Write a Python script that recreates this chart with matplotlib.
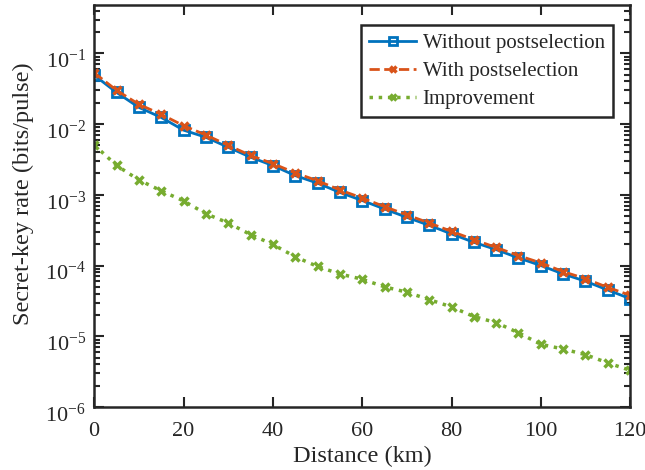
import matplotlib
matplotlib.use("Agg")
import matplotlib.pyplot as plt
import matplotlib.transforms as mtransforms
import numpy as np
from matplotlib.ticker import LogLocator, NullFormatter

plt.rcParams['font.family'] = ['Liberation Serif', 'DejaVu Serif']
plt.rcParams['mathtext.fontset'] = 'stix'

distance = [0, 5, 10, 15, 20, 25, 30, 35, 40, 45, 50, 55, 60, 65, 70, 75, 80, 85, 90, 95, 100, 105, 110, 115, 120]
without_ps = [0.049, 0.028, 0.0172, 0.0124, 0.0082, 0.0065, 0.0047, 0.0034, 0.00259, 0.00187, 0.00146,
              0.00108, 0.00083, 6.3e-4, 4.8e-4, 3.7e-4, 2.8e-4, 2.13e-4, 1.68e-4, 1.28e-4, 1.0e-4,
              7.6e-5, 6.0e-5, 4.5e-5, 3.4e-5]
with_ps = [0.053, 0.030, 0.019, 0.0137, 0.0095, 0.0070, 0.0050, 0.0036, 0.00276, 0.00204, 0.00158,
           0.00117, 0.00090, 6.8e-4, 5.2e-4, 4.0e-4, 3.04e-4, 2.32e-4, 1.8e-4, 1.38e-4, 1.09e-4,
           8.2e-5, 6.5e-5, 4.9e-5, 3.8e-5]
improvement = [5.06e-3, 2.6e-3, 1.62e-3, 1.14e-3, 8.2e-4, 5.4e-4, 4.0e-4, 2.74e-4, 1.99e-4, 1.33e-4, 9.7e-5,
               7.6e-5, 6.4e-5, 5.0e-5, 4.2e-5, 3.3e-5, 2.6e-5, 1.9e-5, 1.56e-5, 1.12e-5, 7.7e-6,
               6.6e-6, 5.5e-6, 4.2e-6, 3.3e-6]

blue = '#0072BD'
orange = '#D95319'
green = '#77AC30'
txt = '#262626'

fig = plt.figure(figsize=(6.45, 4.70), dpi=100)
ax = fig.add_axes([0.146, 0.134, 0.831, 0.855])

ax.plot(distance, without_ps, '-', color=blue, lw=2.0, marker='s', ms=6.5, mfc='none', mec=blue, mew=2,
        label='Without postselection')
ax.plot(distance, with_ps, '--', color=orange, lw=2.0, marker='x', ms=5.5, mec=orange, mew=2.5,
        label='With postselection')
ax.plot(distance, improvement, ':', color=green, lw=2.5, marker='x', ms=5.5, mec=green, mew=2.5,
        label='Improvement')

ax.set_yscale('log')
ax.set_xlim(0, 120)
ax.set_ylim(1e-6, 10**-0.32)
ax.set_xticks([0, 20, 40, 60, 80, 100, 120])
ax.yaxis.set_major_locator(LogLocator(base=10, numticks=10))
ax.yaxis.set_minor_locator(LogLocator(base=10, subs=np.arange(2, 10), numticks=20))
ax.yaxis.set_minor_formatter(NullFormatter())

ax.tick_params(which='both', direction='in', top=True, right=True, colors=txt, labelsize=16,
               width=1.5)
ax.tick_params(which='major', length=7)
ax.tick_params(which='minor', length=4)
ax.tick_params(axis='x', pad=11)
ax.tick_params(axis='y', pad=6)
for s in ax.spines.values():
    s.set_linewidth(1.8)
    s.set_color(txt)

fig.canvas.draw()
off = mtransforms.ScaledTranslation(0, -4 / 72, fig.dpi_scale_trans)
for lab in ax.get_yticklabels():
    lab.set_transform(lab.get_transform() + off)

ax.set_xlabel('Distance (km)', fontsize=17.5, color=txt, labelpad=3)
ax.set_ylabel('Secret-key rate (bits/pulse)', fontsize=17.5, color=txt)
ax.yaxis.label.set_va('center')
ax.yaxis.set_label_coords(-0.132, 0.53)

leg = ax.legend(loc='upper right', bbox_to_anchor=(0.968, 0.950), fontsize=15, fancybox=False,
                framealpha=1, edgecolor='#262626', handlelength=2.25, borderpad=0.4,
                labelspacing=0.4, handletextpad=0.3, borderaxespad=0.0, markerscale=0.8)
leg.get_frame().set_linewidth(1.8)
for t in leg.get_texts():
    t.set_color(txt)

fig.savefig('out.png', dpi=100)
